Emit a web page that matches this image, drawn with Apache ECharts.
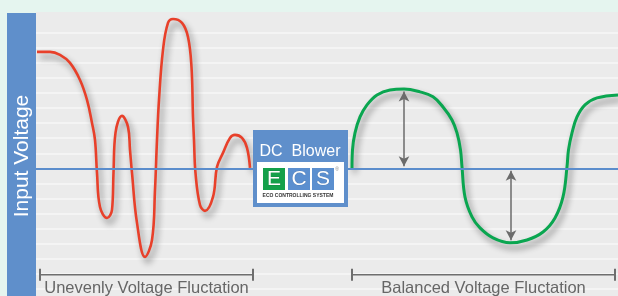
<!DOCTYPE html>
<html><head><meta charset="utf-8">
<script src="https://cdn.jsdelivr.net/npm/echarts@6/dist/echarts.min.js"></script>
<style>html,body{margin:0;padding:0;background:#e5f5ef;}#c{width:618px;height:296px;}</style>
</head><body><div id="c"></div>
<script>
// time positions (x) and voltage deviation (in grid units)
const redX = [37, 50, 60, 70, 80, 87, 92, 95, 97, 100, 107, 112, 113.5, 115.5, 122, 128, 130, 132, 137, 145, 152, 155, 157, 159, 163, 168, 173, 182, 188, 191.5, 193, 194, 195.5, 200, 205, 213, 217, 223, 230, 235, 242, 247, 250];
const redV = [7.72, 7.72, 7.52, 6.99, 5.86, 4.54, 3.01, 1.89, -0.30, -2.55, -3.28, -2.75, -0.30, 2.35, 3.48, 2.75, 1.23, -0.30, -3.61, -5.86, -4.74, -1.42, 1.89, 4.54, 7.85, 9.64, 9.90, 9.64, 8.71, 6.72, 3.41, 1.89, -0.30, -2.42, -2.81, -1.89, 0.10, 1.03, 2.02, 2.22, 2.02, 1.36, 0.03];
const greenX = [352, 352.5, 355, 360, 367, 377, 390, 404, 420, 433, 443, 452, 457, 460.5, 462, 465, 472, 480, 493, 510, 527, 543, 555, 563, 567, 568.5, 572, 577, 585, 597, 618];
const greenV = [0.03, 1.23, 2.35, 3.41, 4.21, 4.87, 5.20, 5.26, 5.07, 4.74, 4.07, 3.21, 2.35, 1.23, 0.10, -1.89, -3.21, -3.94, -4.60, -4.93, -4.74, -4.21, -3.28, -1.89, 0.10, 1.23, 2.35, 3.41, 4.21, 4.67, 4.87];
const arrowX = [404, 511];
const arrowV = [5.1, -4.75];
const bracketStart = [40, 352];
const bracketEnd = [253, 615];
const bracketLabels = ['Unevenly Voltage Fluctation', 'Balanced Voltage Fluctation'];
const bracketLevel = -7.05;
const labelLevel = -7.95;
const axisTitle = 'Input Voltage';
const boxTitle = 'DC  Blower';
const logoLetters = ['E', 'C', 'S'];
const logoCaption = 'ECO CONTROLLING SYSTEM';

const Y_MIN = -9, Y_MAX = 10.36;
const gridColors = [];
for (let v = Y_MIN; v <= 10; v++) gridColors.push(v >= 10 ? 'rgba(0,0,0,0)' : '#f7f7f7');
gridColors.push('rgba(0,0,0,0)');

const chart = echarts.init(document.getElementById('c'), null, {renderer: 'canvas'});
const zip = (xs, vs) => xs.map((x, i) => [x, vs[i]]);
const shadow = {shadowColor: 'rgba(0,0,0,0.45)', shadowBlur: 6, shadowOffsetX: 3, shadowOffsetY: 5};

chart.setOption({
  backgroundColor: '#e5f5ef',
  animation: false,
  grid: {left: 36, width: 582, top: 12, height: 292.3, outerBoundsMode: 'none', containLabel: false,
    show: true, backgroundColor: '#ebebeb', borderWidth: 0},
  xAxis: {type: 'value', min: 36, max: 618, show: false},
  yAxis: {type: 'value', min: Y_MIN, max: Y_MAX, interval: 1,
    axisLine: {show: false}, axisTick: {show: false}, axisLabel: {show: false},
    splitLine: {show: true, lineStyle: {color: gridColors, width: 1.5}}},
  series: [
    {type: 'line', data: [], z: 1, silent: true,
     markLine: {silent: true, symbol: ['none', 'none'], label: {show: false},
       lineStyle: {color: '#5b8dcc', width: 2, type: 'solid'}, data: [{yAxis: 0}]}},
    {type: 'line', data: zip(redX, redV), smooth: 0.4, showSymbol: false, z: 3,
     lineStyle: Object.assign({color: '#e8402a', width: 2.6}, shadow)},
    {type: 'line', data: zip(greenX, greenV), smooth: 0.4, showSymbol: false, z: 3,
     lineStyle: Object.assign({color: '#0aa650', width: 3}, shadow),
     markLine: {silent: true, symbol: ['arrow', 'arrow'], symbolSize: [8, 10], label: {show: false},
       lineStyle: {color: '#6b6b6b', width: 1.5, type: 'solid', shadowBlur: 0},
       data: arrowX.map((x, i) => [{coord: [x, 0.15 * Math.sign(arrowV[i])]}, {coord: [x, arrowV[i]]}])}}
  ]
});

const g = [];
g.push({type: 'rect', shape: {x: 7, y: 13, width: 29, height: 283}, style: {fill: '#5f8fcb'}, z: 10});
g.push({type: 'text', x: 22.5, y: 156, rotation: Math.PI / 2, z: 11,
  style: {text: axisTitle, fill: '#fff', font: '21px "Liberation Sans", Arial', align: 'center', verticalAlign: 'middle'}});
for (let i = 0; i < bracketStart.length; i++) {
  const p1 = chart.convertToPixel({gridIndex: 0}, [bracketStart[i], bracketLevel]);
  const p2 = chart.convertToPixel({gridIndex: 0}, [bracketEnd[i], bracketLevel]);
  const pl = chart.convertToPixel({gridIndex: 0}, [(bracketStart[i] + bracketEnd[i]) / 2, labelLevel]);
  g.push({type: 'line', shape: {x1: p1[0], y1: p1[1], x2: p2[0], y2: p2[1]}, style: {stroke: '#6e6e6e', lineWidth: 1.5}, z: 10});
  g.push({type: 'line', shape: {x1: p1[0], y1: p1[1] - 6, x2: p1[0], y2: p1[1] + 6}, style: {stroke: '#6e6e6e', lineWidth: 2}, z: 10});
  g.push({type: 'line', shape: {x1: p2[0], y1: p2[1] - 6, x2: p2[0], y2: p2[1] + 6}, style: {stroke: '#6e6e6e', lineWidth: 2}, z: 10});
  g.push({type: 'text', x: pl[0], y: pl[1], z: 10,
    style: {text: bracketLabels[i], fill: '#666', font: '16.5px "Liberation Sans", Arial', align: 'center', verticalAlign: 'middle'}});
}
// DC Blower box
g.push({type: 'rect', shape: {x: 253, y: 130, width: 95, height: 77}, style: {fill: '#5f8fcb'}, z: 20});
g.push({type: 'text', x: 300, y: 152, z: 21,
  style: {text: boxTitle, fill: '#fff', font: '16px "Liberation Sans", Arial', align: 'center', verticalAlign: 'middle'}});
g.push({type: 'rect', shape: {x: 257, y: 162, width: 87, height: 41}, style: {fill: '#fff'}, z: 21});
const logoFill = ['#13a04a', '#5b8fcf', '#5b8fcf'];
const logoX = [263, 288, 312];
for (let i = 0; i < 3; i++) {
  g.push({type: 'rect', shape: {x: logoX[i], y: 168, width: 22, height: 22}, style: {fill: logoFill[i]}, z: 22});
  g.push({type: 'text', x: logoX[i] + 11, y: 179.5, z: 23,
    style: {text: logoLetters[i], fill: '#fff', font: '21px "Liberation Sans", Arial', align: 'center', verticalAlign: 'middle', stroke: 'rgba(0,0,0,0.25)', lineWidth: 0.5}});
}
g.push({type: 'text', x: 337, y: 170, z: 22, style: {text: '®', fill: '#888', font: '5px "Liberation Sans", Arial', align: 'center', verticalAlign: 'middle'}});
g.push({type: 'text', x: 298, y: 196, z: 22, style: {text: logoCaption, fill: '#333', font: 'bold 5px "Liberation Sans", Arial', align: 'center', verticalAlign: 'middle'}});
chart.setOption({graphic: g});
</script></body></html>
